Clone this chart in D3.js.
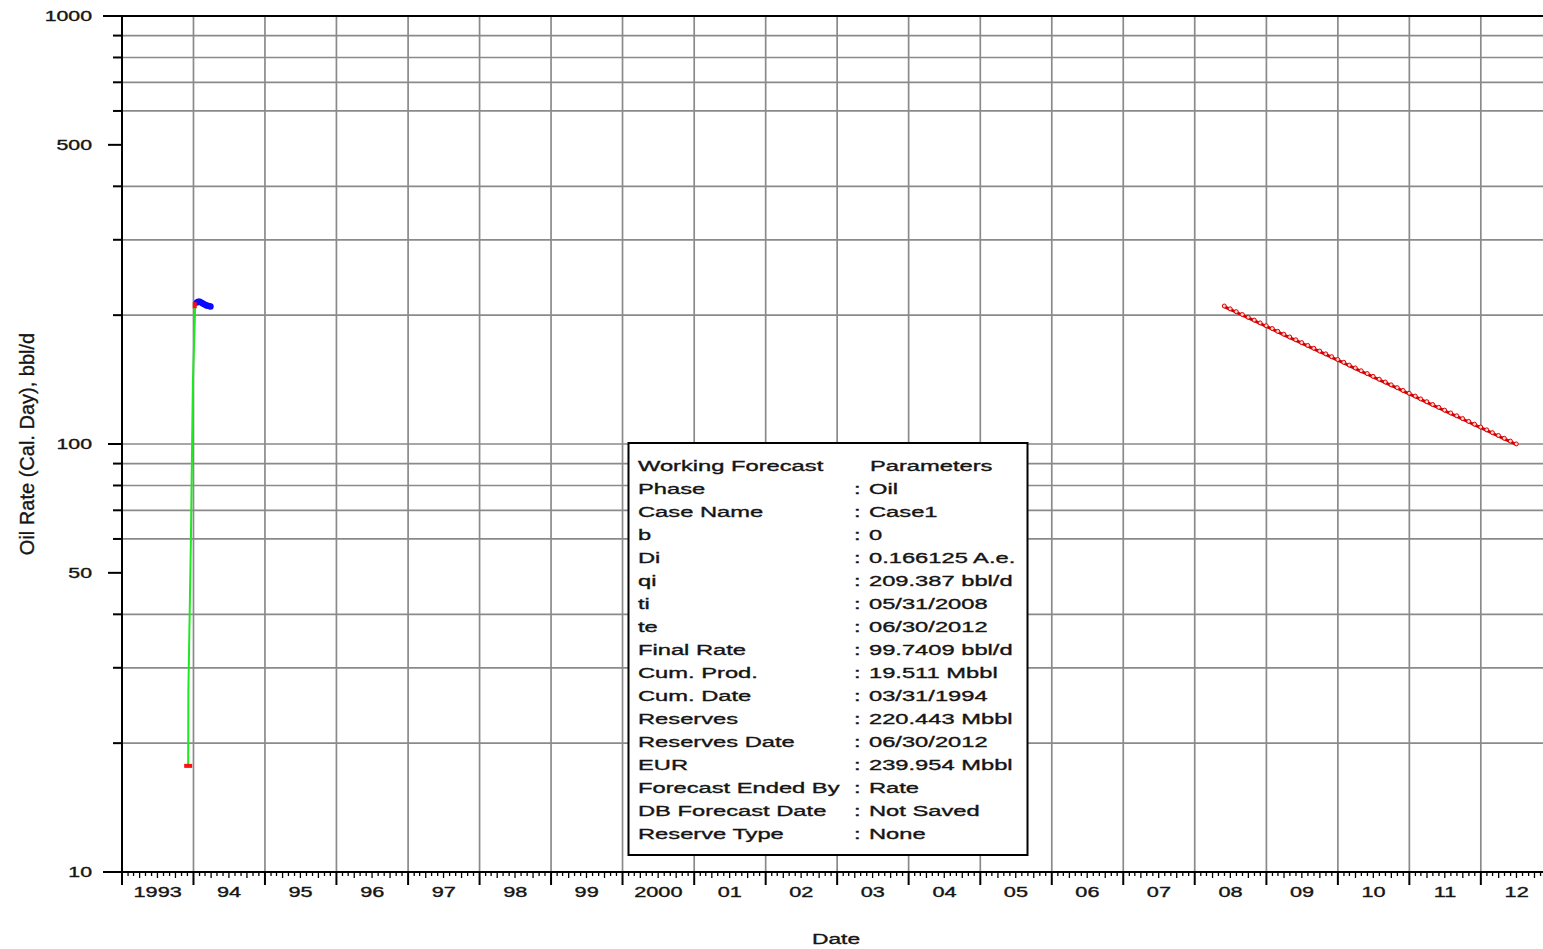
<!DOCTYPE html>
<html>
<head>
<meta charset="utf-8">
<script src="https://cdn.jsdelivr.net/npm/d3@7"></script>
<style>
  html, body { margin: 0; padding: 0; background: #fff; overflow: hidden; }
  svg text { font-family: "Liberation Sans", Arial, sans-serif; fill: #151515; stroke: #151515; stroke-width: 0.35px; }
</style>
</head>
<body>
<svg id="chart" width="1543" height="949"></svg>
<script>
// ---- data ----
const yearLabels = ["1993","94","95","96","97","98","99","2000","01","02","03","04","05","06","07","08","09","10","11","12"];
const rateMajorTicks = [10, 50, 100, 500, 1000];
const rateMinorTicks = [20, 30, 40, 60, 70, 80, 90, 200, 300, 400, 600, 700, 800, 900];

// ramp-up of the oil rate (bbl/d)
const histDates = ["1993-12-05", "1993-12-06", "1993-12-19", "1993-12-29", "1994-01-10"];
const histRates = [17.7, 26.6, 60.3, 139, 211];

// early production points (bbl/d)
const prodDates = ["1994-01-18", "1994-01-25", "1994-02-02", "1994-02-10", "1994-02-18", "1994-02-26", "1994-03-06", "1994-03-14", "1994-03-22", "1994-03-29"];
const prodRates = [214, 215, 215, 214, 213, 212, 211, 210.5, 210, 209.5];

// exponential forecast, month-end values (bbl/d)
const forecastDates = [
  "2008-05-31","2008-06-30","2008-07-31","2008-08-31","2008-09-30","2008-10-31","2008-11-30","2008-12-31",
  "2009-01-31","2009-02-28","2009-03-31","2009-04-30","2009-05-31","2009-06-30","2009-07-31","2009-08-31","2009-09-30","2009-10-31","2009-11-30","2009-12-31",
  "2010-01-31","2010-02-28","2010-03-31","2010-04-30","2010-05-31","2010-06-30","2010-07-31","2010-08-31","2010-09-30","2010-10-31","2010-11-30","2010-12-31",
  "2011-01-31","2011-02-28","2011-03-31","2011-04-30","2011-05-31","2011-06-30","2011-07-31","2011-08-31","2011-09-30","2011-10-31","2011-11-30","2011-12-31",
  "2012-01-31","2012-02-29","2012-03-31","2012-04-30","2012-05-31","2012-06-30"
];
const forecastRates = [
  209.39,206.24,203.14,200.09,197.09,194.12,191.21,188.34,185.51,182.72,
  179.97,177.27,174.61,171.98,169.40,166.85,164.35,161.88,159.45,157.05,
  154.69,152.37,150.08,147.82,145.60,143.42,141.26,139.14,137.05,134.99,
  132.96,130.96,129.00,127.06,125.15,123.27,121.42,119.59,117.80,116.03,
  114.28,112.57,110.87,109.21,107.57,105.95,104.36,102.79,101.25,99.74
];

const paramNames = ["Phase","Case Name","b","Di","qi","ti","te","Final Rate","Cum. Prod.","Cum. Date","Reserves","Reserves Date","EUR","Forecast Ended By","DB Forecast Date","Reserve Type"];
const paramValues = ["Oil","Case1","0","0.166125 A.e.","209.387 bbl/d","05/31/2008","06/30/2012","99.7409 bbl/d","19.511 Mbbl","03/31/1994","220.443 Mbbl","06/30/2012","239.954 Mbbl","Rate","Not Saved","None"];

// ---- setup ----
const parse = d3.timeParse("%Y-%m-%d");
const svg = d3.select("#chart");
const plotL = 122, plotR = 1552.5, plotT = 16, plotB = 872;

const x = d3.scaleTime()
  .domain([new Date(1993, 0, 1), new Date(2013, 0, 1)])
  .range([plotL, plotR]);
const y = d3.scaleLog().domain([10, 1000]).range([plotB, plotT]);

// text drawn with a horizontal stretch
function wideText(parent, tx, ty, str, opts = {}) {
  return parent.append("text")
    .attr("transform", `translate(${tx},${ty}) scale(${opts.sx || 1.58},1)`)
    .attr("text-anchor", opts.anchor || "start")
    .style("font-size", (opts.size || 15) + "px")
    .text(str);
}

// ---- grid ----
const grid = svg.append("g").attr("stroke", "#8a8a8a").attr("stroke-width", 1.7);
grid.append("g").selectAll("line")
  .data(rateMinorTicks.concat([100]))
  .join("line")
  .attr("x1", plotL).attr("x2", plotR)
  .attr("y1", d => y(d)).attr("y2", d => y(d));
const years = d3.timeYear.range(new Date(1994, 0, 1), new Date(2013, 0, 1));
grid.append("g").selectAll("line")
  .data(years)
  .join("line")
  .attr("x1", d => x(d)).attr("x2", d => x(d))
  .attr("y1", plotT).attr("y2", plotB);

// ---- axes ----
const axes = svg.append("g").attr("stroke", "#000").attr("fill", "none");

// y axis ticks (extend to the left of the axis)
axes.append("g").selectAll("line")
  .data(rateMajorTicks)
  .join("line")
  .attr("stroke-width", 2)
  .attr("x1", d => (d === 10 || d === 1000) ? 103 : 108).attr("x2", plotL)
  .attr("y1", d => y(d)).attr("y2", d => y(d));
axes.append("g").selectAll("line")
  .data(rateMinorTicks)
  .join("line")
  .attr("stroke-width", 2)
  .attr("x1", 113).attr("x2", plotL)
  .attr("y1", d => y(d)).attr("y2", d => y(d));

// top frame and bottom axis line
axes.append("line").attr("stroke-width", 2)
  .attr("x1", 103).attr("x2", plotR).attr("y1", plotT).attr("y2", plotT);
axes.append("line").attr("stroke-width", 2)
  .attr("x1", 103).attr("x2", plotR).attr("y1", plotB).attr("y2", plotB);
// left axis line
axes.append("line").attr("stroke-width", 2)
  .attr("x1", plotL).attr("x2", plotL).attr("y1", plotT).attr("y2", plotB + 13);

// x axis: yearly major ticks
axes.append("g").selectAll("line")
  .data(years)
  .join("line")
  .attr("stroke-width", 2)
  .attr("x1", d => x(d)).attr("x2", d => x(d))
  .attr("y1", plotB).attr("y2", plotB + 13);

// x axis: monthly minor ticks, quarters slightly longer
const months = d3.timeMonth.range(new Date(1993, 0, 1), new Date(2013, 0, 1))
  .filter(d => d.getMonth() !== 0);
axes.append("g").selectAll("line")
  .data(months)
  .join("line")
  .attr("stroke-width", 1.3)
  .attr("x1", d => x(d)).attr("x2", d => x(d))
  .attr("y1", plotB).attr("y2", d => plotB + (d.getMonth() % 3 === 0 ? 6 : 4));

// ---- tick labels ----
const labels = svg.append("g");
rateMajorTicks.forEach(v => {
  wideText(labels, 92, y(v) + 5, String(v), { anchor: "end", size: 14, sx: 1.52 });
});
yearLabels.forEach((lab, i) => {
  const mid = x(new Date(1993 + i, 6, 2));
  wideText(labels, mid, 897, lab, { anchor: "middle", size: 14, sx: 1.55 });
});

// axis titles
wideText(labels, 836, 944, "Date", { anchor: "middle", size: 15, sx: 1.52 });
labels.append("text")
  .attr("transform", `translate(34,444) rotate(-90)`)
  .attr("text-anchor", "middle")
  .style("font-size", "20px")
  .text("Oil Rate (Cal. Day), bbl/d");

// ---- series ----
const series = svg.append("g");

// ramp-up line
const histPts = histDates.map((d, i) => [x(parse(d)), y(histRates[i])]);
series.append("path")
  .attr("d", d3.line()(histPts))
  .attr("fill", "none")
  .attr("stroke", "#1ee81e")
  .attr("stroke-width", 2);

// production points
series.append("g").selectAll("circle")
  .data(prodDates.map((d, i) => [x(parse(d)), y(prodRates[i])]))
  .join("circle")
  .attr("cx", d => d[0]).attr("cy", d => d[1])
  .attr("r", 3.2)
  .attr("fill", "#0a0aff");

// end markers of the ramp-up line
const first = histPts[0], last = histPts[histPts.length - 1];
series.append("rect")
  .attr("x", first[0] - 4).attr("y", first[1] - 2)
  .attr("width", 8).attr("height", 4)
  .attr("fill", "#ff1010");
series.append("rect")
  .attr("x", last[0] - 2.5).attr("y", last[1] - 3)
  .attr("width", 4).attr("height", 6)
  .attr("fill", "#ff1010");

// forecast line with markers
const fcPts = forecastDates.map((d, i) => [x(parse(d)), y(forecastRates[i])]);
series.append("path")
  .attr("d", d3.line()(fcPts))
  .attr("fill", "none")
  .attr("stroke", "#d00000")
  .attr("stroke-width", 3);
series.append("g").selectAll("circle")
  .data(fcPts)
  .join("circle")
  .attr("cx", d => d[0]).attr("cy", d => d[1] - 0.6)
  .attr("r", 2)
  .attr("fill", "#ffd0d0")
  .attr("stroke", "#e00000")
  .attr("stroke-width", 1);

// ---- parameter box ----
const box = svg.append("g");
box.append("rect")
  .attr("x", 628.5).attr("y", 443)
  .attr("width", 399).attr("height", 412)
  .attr("fill", "#fff")
  .attr("stroke", "#000")
  .attr("stroke-width", 2);

const rowY0 = 470.5, rowStep = 23.05;
wideText(box, 638, rowY0, "Working Forecast");
wideText(box, 870, rowY0, "Parameters");
paramNames.forEach((name, i) => {
  const ry = rowY0 + (i + 1) * rowStep;
  wideText(box, 638, ry, name);
  wideText(box, 854, ry, ":");
  wideText(box, 869, ry, paramValues[i]);
});
</script>
</body>
</html>
